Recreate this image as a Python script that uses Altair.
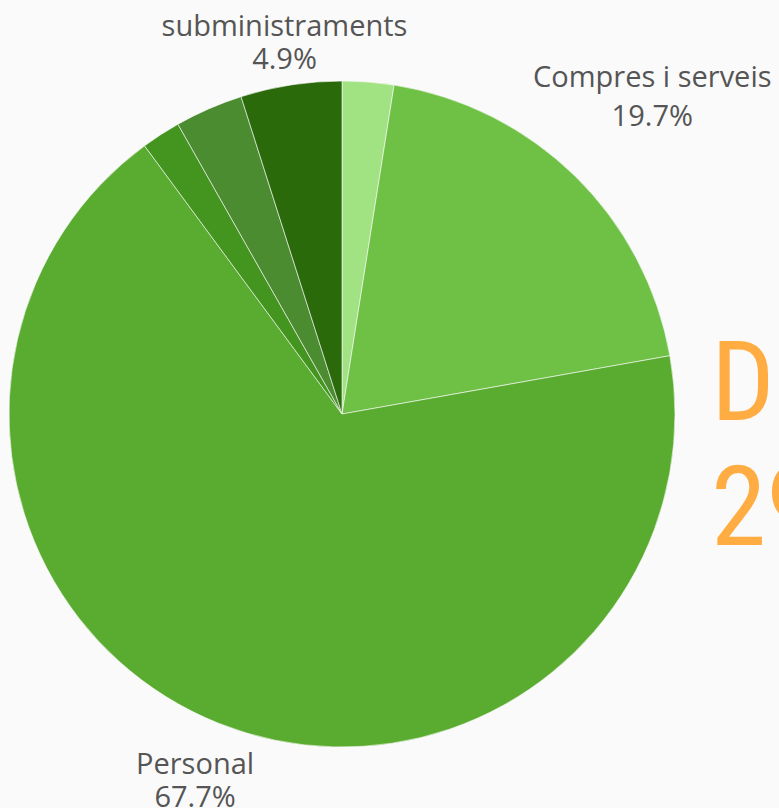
import altair as alt
import pandas as pd

categories = ["Altres", "Compres i serveis", "Personal", "Transferències", "Inversions", "subministraments"]
values = [2.5, 19.7, 67.7, 1.9, 3.3, 4.9]
colors = ["#a1e283", "#6ec144", "#5aac30", "#43951f", "#4b8c31", "#2b6a0b"]
labeled = ["subministraments", "Compres i serveis", "Personal"]
title_lines = ["DESPESES", "29"]

df = pd.DataFrame({"cat": categories, "val": values, "order": list(range(len(categories)))})
df["label"] = [[c, f"{v}%"] for c, v in zip(categories, values)]

CX, CY, R = 342, 414, 333

base = alt.Chart(df).encode(
    theta=alt.Theta("val:Q", stack=True),
    order=alt.Order("order:Q"),
)

pie = base.mark_arc(radius=R, stroke="#fafafa", strokeWidth=0.6).encode(
    x=alt.value(CX), y=alt.value(CY),
    color=alt.Color("cat:N", scale=alt.Scale(domain=categories, range=colors), legend=None),
)

# label placement: (radius, line height)
label_style = {"subministraments": (375, 33), "Compres i serveis": (443, 39), "Personal": (396, 33)}
layers = [pie]
for name in labeled:
    rad, lh = label_style[name]
    layers.append(
        base.mark_text(radius=rad, fontSize=29, font="Open Sans",
                       color="#555555", baseline="middle", align="center",
                       lineHeight=lh, dy=-lh / 2)
        .encode(x=alt.value(CX), y=alt.value(CY), text="label",
                opacity=alt.condition(alt.datum.cat == name, alt.value(1), alt.value(0)))
    )

title_df = pd.DataFrame({"t": [title_lines]})
title = alt.Chart(title_df).mark_text(
    font="Roboto Condensed, Open Sans Condensed, Noto Sans Condensed, DejaVu Sans Condensed",
    fontSize=112, color="#ffad42", fontWeight=400, lineHeight=125,
    align="left", baseline="alphabetic",
).encode(
    text="t",
    x=alt.value(711),
    y=alt.value(420),
)

chart = alt.layer(*layers, title).properties(
    width=779, height=808, padding=0, autosize=alt.AutoSizeParams(type="none"),
    background="#fafafa",
).configure_view(stroke=None)

chart.save("out.html", embed_options={"renderer": "svg", "actions": False})
